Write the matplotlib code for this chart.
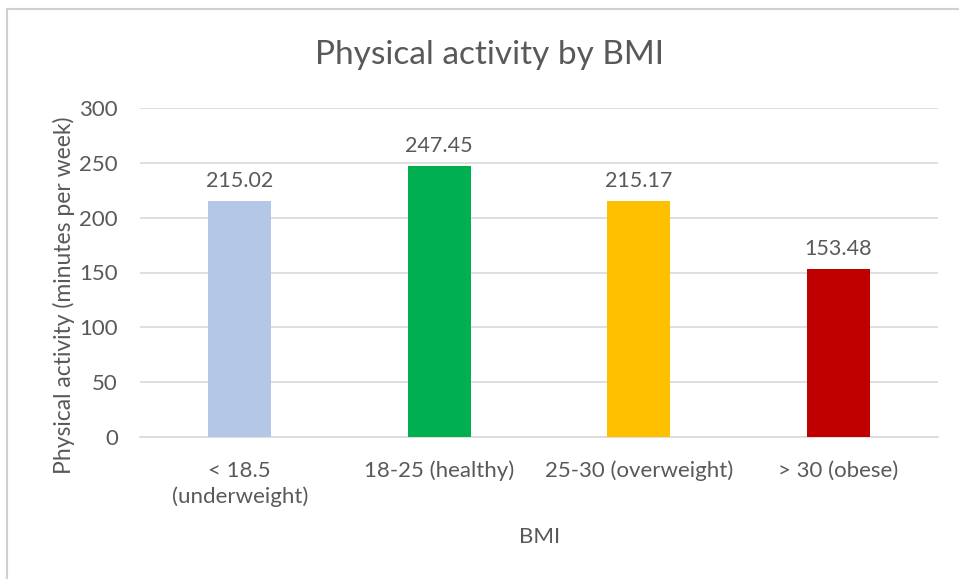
import matplotlib
matplotlib.use('Agg')
import matplotlib.pyplot as plt
from matplotlib.patches import Rectangle

categories = ['< 18.5\n(underweight)', '18-25 (healthy)', '25-30 (overweight)', '> 30 (obese)']
values = [215.02, 247.45, 215.17, 153.48]
colors = ['#B4C7E7', '#00B050', '#FFC000', '#C00000']
yticks = [0, 50, 100, 150, 200, 250, 300]

plt.rcParams['font.family'] = ['Lato', 'DejaVu Sans']
txt = '#595959'

W, H = 959, 579
fig = plt.figure(figsize=(W/100, H/100), dpi=100)
fig.patch.set_facecolor('white')

# chart area border
fig.add_artist(Rectangle((7/W, -0.01), 1.0, 1 - 9/H + 0.01, transform=fig.transFigure,
                         fill=False, edgecolor='#D0D0D0', lw=1.5))

ax = fig.add_axes([140/W, 1 - 437/H, (938-140)/W, (437-108)/H])
x = range(len(values))
ax.bar(x, values, width=0.315, color=colors, zorder=3)
for i, v in enumerate(values):
    ax.text(i, v + 9, '%.2f' % v, ha='center', va='bottom', fontsize=15.5, color=txt)

ax.set_xlim(-0.5, 3.5)
ax.set_ylim(0, 300)
ax.set_yticks(yticks)
ax.set_xticks(list(x))
ax.set_xticklabels(categories, fontsize=16, color=txt, linespacing=1.35)
ax.tick_params(axis='y', labelsize=16, labelcolor=txt, length=0, pad=16)
ax.tick_params(axis='x', length=0, pad=17)
ax.grid(axis='y', color='#D9D9D9', lw=1.2, zorder=0)
for s in ['top', 'right', 'left']:
    ax.spines[s].set_visible(False)
ax.spines['bottom'].set_color('#D9D9D9')
ax.spines['bottom'].set_linewidth(1.2)

fig.text(64/W, 1 - 295/H, 'Physical activity (minutes per week)', rotation=90,
         ha='center', va='center', fontsize=16.5, color=txt)
fig.text(540/W, 1 - 537/H, 'BMI', ha='center', va='center', fontsize=16, color=txt)
fig.text(489/W, 1 - 55/H, 'Physical activity by BMI', ha='center', va='center', fontsize=24, color=txt)

fig.savefig('out.png', dpi=100)
